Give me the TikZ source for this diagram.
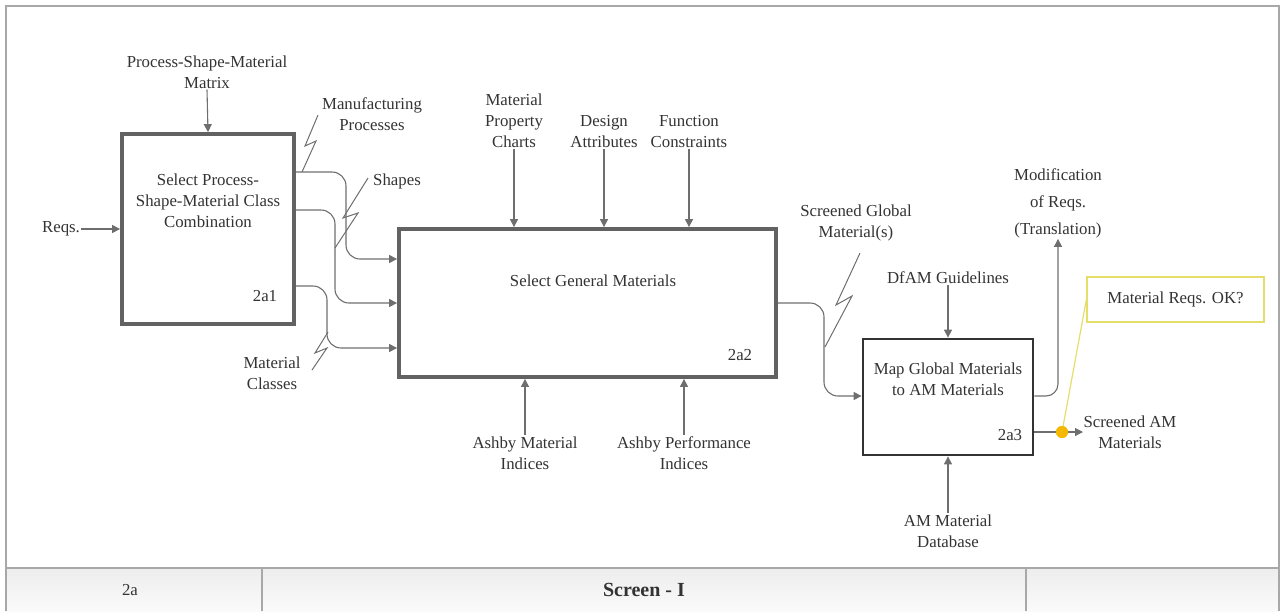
\documentclass[tikz,border=0pt]{standalone}
\usepackage{fontspec}
\setmainfont{Liberation Serif}
\usetikzlibrary{arrows.meta,calc}
\definecolor{ln}{HTML}{6E6E6E}
\definecolor{tx}{HTML}{333333}
\definecolor{bx}{HTML}{626262}
\definecolor{frm}{HTML}{A8A8A8}
\definecolor{ylw}{HTML}{E6DE6A}
\definecolor{org}{HTML}{F5B800}
\begin{document}
\begin{tikzpicture}[x=1pt,y=-1pt,
  font=\fontsize{16.8}{21}\selectfont,
  every node/.style={text=tx, inner sep=1pt},
  lbl/.style={align=center},
  arr/.style={draw=ln, line width=1.1pt, -{Triangle[width=8pt,length=8pt]}},
  zig/.style={draw=ln, line width=1pt},
  box/.style={draw=bx, line width=3.8pt, fill=white},
  boxdark/.style={draw=black!80, line width=2.8pt, fill=white},
  frame/.style={draw=frm, line width=1.5pt}]
\useasboundingbox (0,0) rectangle (1282,611);
% frame and bottom table
\shade[top color=black!7, bottom color=black!2] (6,568) rectangle (1279,611);
\draw[frame] (6,611) -- (6,6) -- (1279,6) -- (1279,611);
\draw[frame] (6,568) -- (1279,568);
\draw[frame] (262,568) -- (262,611);
\draw[frame] (1026,568) -- (1026,611);
\node (c1) at (130,590) {2a};
\node[font=\fontsize{20}{24}\selectfont\bfseries] (c2) at (644,590) {Screen - I};

% boxes
\node[box, minimum width=172pt, minimum height=190pt] (b1) at (208,229) {};
\node[lbl] (t1) at (208,201) {Select Process-\\Shape-Material Class\\Combination};
\node (n1) at (265,296) {2a1};

\node[box, minimum width=377pt, minimum height=148pt] (b2) at (587.5,303) {};
\node (t2) at (593,281) {Select General Materials};
\node (n2) at (740,355) {2a2};

\node[boxdark, minimum width=170pt, minimum height=116pt] (b3) at (948,397) {};
\node[lbl] (t3) at (948,379) {Map Global Materials\\to AM Materials};
\node (n3) at (1010,435) {2a3};

% labels
\node[lbl] (psm) at (207,72) {Process-Shape-Material\\Matrix};
\node (reqs) at (61,229) {Reqs.};
\node[lbl] (mp) at (372,114) {Manufacturing\\Processes};
\node (sh) at (397,181) {Shapes};
\node[lbl] (mc) at (272,373) {Material\\Classes};
\node[lbl] (mpc) at (514,121) {Material\\Property\\Charts};
\node[lbl] (da) at (604,132) {Design\\Attributes};
\node[lbl] (fc) at (689,132) {Function\\Constraints};
\node[lbl] (ami) at (525,453) {Ashby Material\\Indices};
\node[lbl] (api) at (684,453) {Ashby Performance\\Indices};
\node[lbl] (sgm) at (856,223) {Screened Global\\Material(s)};
\node (dfam) at (948,278) {DfAM Guidelines};
\node[lbl] (mod) at (1058,203) {Modification\\[6pt]of Reqs.\\[6pt](Translation)};
\node[lbl] (sam) at (1130,432) {Screened AM\\Materials};
\coordinate (samtip) at (1083,432);
\node[lbl] (amd) at (948,531) {AM Material\\Database};
\node[draw=ylw, line width=1.2pt, fill=white, minimum width=177pt, minimum height=45pt] (co) at (1175.5,299.5) {Material Reqs. OK?};

% inputs
\draw[arr] (psm.south) -- (b1.north);
\draw[arr] (reqs.east) -- (b1.west);
\draw[arr] (mpc.south) -- (mpc.south |- b2.north);
\draw[arr] (da.south) -- (da.south |- b2.north);
\draw[arr] (fc.south) -- (fc.south |- b2.north);
\draw[arr] (ami.north) -- (ami.north |- b2.south);
\draw[arr] (api.north) -- (api.north |- b2.south);
\draw[arr] (dfam.south) -- (b3.north);
\draw[arr] (amd.north) -- (b3.south);

% flows 2a1 -> 2a2
\draw[arr, rounded corners=14pt] (b1.east |- 0,172) -| (346,230) |- (b2.west |- 0,259);
\draw[arr, rounded corners=14pt] (b1.east |- 0,210) -| (335,270) |- (b2.west |- 0,303);
\draw[arr, rounded corners=14pt] (b1.east |- 0,286) -| (327,320) |- (b2.west |- 0,348);
% 2a2 -> 2a3
\draw[arr, rounded corners=14pt] (b2.east |- 0,303) -| (824,350) |- (b3.west |- 0,396);
% 2a3 outputs
\draw[arr, rounded corners=12pt] (b3.east |- 0,396) -| (mod.south);
\draw[arr] (b3.east |- samtip) -- (samtip);

% lightning labels
\draw[zig] (302,172) -- (316,141) -- (305,146) -- (318,115);
\draw[zig] (335,248) -- (358,213) -- (343,218) -- (368,178);
\draw[zig] (328,332) -- (315,353) -- (327,348) -- (312,370);
\draw[zig] (825,347) -- (852,296) -- (836,305) -- (860,253);

% callout
\node[circle, fill=org, minimum size=12pt, inner sep=0pt] (dot) at (1062,432) {};
\draw[draw=ylw, line width=1.2pt] (dot.center) -- (co.west);
\node[circle, fill=org, minimum size=12pt, inner sep=0pt] at (dot) {};
\end{tikzpicture}
\end{document}
